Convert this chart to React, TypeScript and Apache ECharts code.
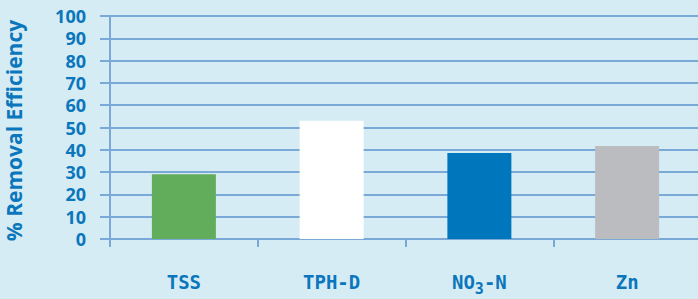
import React, { useEffect, useRef } from "react";
import * as echarts from "echarts";

const categories = ["TSS", "TPH-D", "NO3-N", "Zn"];
const removalEfficiency = [29, 53, 38.6, 41.7];
const barColors = ["#62ad5c", "#ffffff", "#0077bd", "#bbbcbf"];
const yTicks = { min: 0, max: 100, interval: 10 };

const TEXT = "#0a76bb";
const GRID = "#7aa8d7";

export default function App() {
  const ref = useRef<HTMLDivElement>(null);
  useEffect(() => {
    if (!ref.current) return;
    const chart = echarts.init(ref.current, null, { renderer: "svg" });
    const labelFont = {
      fontFamily: "DejaVu Sans Mono",
      fontWeight: "bold",
      color: TEXT,
    };
    chart.setOption({
      animation: false,
      backgroundColor: "#d5ecf4",
      grid: {
        left: 110,
        top: 16,
        bottom: 60,
        right: -3,
        containLabel: false,
        outerBoundsMode: "none",
      },
      xAxis: {
        type: "category",
        data: categories,
        axisLine: { lineStyle: { color: GRID, width: 2 } },
        axisTick: { show: true, length: 8, lineStyle: { color: GRID, width: 2 } },
        axisLabel: {
          interval: 0,
          margin: 33,
          ...labelFont,
          fontSize: 19,
          formatter: (v: string) =>
            v === "NO3-N" ? "{m|NO}{sub|3}{m|-N}" : v,
          rich: {
            m: { ...labelFont, fontSize: 19, verticalAlign: "top" },
            sub: {
              ...labelFont,
              fontSize: 15,
              verticalAlign: "bottom",
              padding: [9, 0, 0, 0],
            },
          },
        },
      },
      yAxis: {
        type: "value",
        min: yTicks.min,
        max: yTicks.max,
        interval: yTicks.interval,
        name: "% Removal Efficiency",
        nameLocation: "middle",
        nameGap: 86,
        nameRotate: 90,
        nameTextStyle: {
          color: TEXT,
          fontFamily: "Open Sans",
          fontWeight: "bold",
          fontSize: 21,
          padding: [0, 6, 0, 0],
        },
        axisLine: { show: true, lineStyle: { color: GRID, width: 2 } },
        axisTick: { show: true, length: 10, lineStyle: { color: GRID, width: 2 } },
        splitLine: { show: true, lineStyle: { color: GRID, width: 2 } },
        axisLabel: {
          margin: 24,
          color: TEXT,
          fontFamily: "Open Sans",
          fontWeight: "bold",
          fontSize: 18,
          lineHeight: 20,
        },
      },
      series: [
        {
          type: "bar",
          barWidth: 64,
          data: removalEfficiency.map((v, i) => ({
            value: v,
            itemStyle: { color: barColors[i] },
          })),
        },
      ],
    });
    return () => chart.dispose();
  }, []);
  return <div ref={ref} style={{ width: 698, height: 299, position: "absolute", left: 0, top: 0 }} />;
}
